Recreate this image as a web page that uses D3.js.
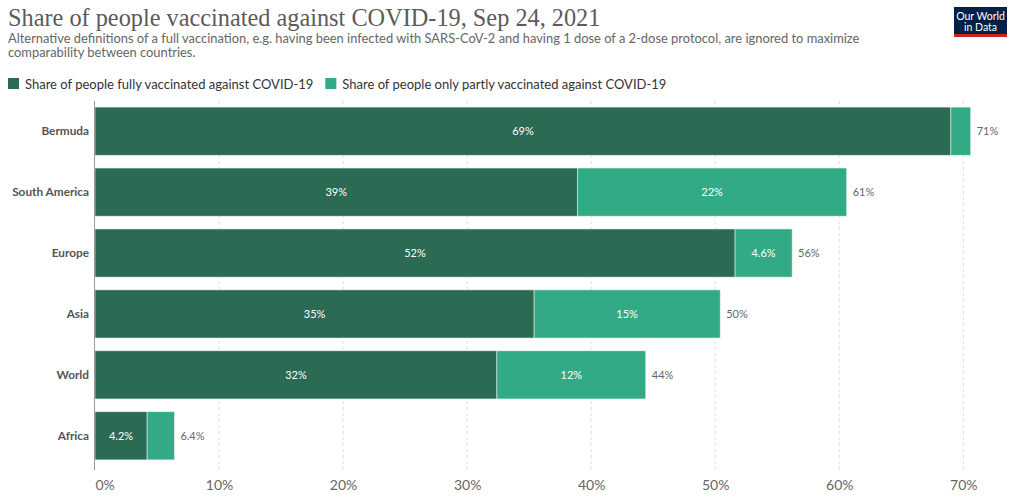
<!DOCTYPE html>
<html>
<head>
<meta charset="utf-8">
<script src="https://d3js.org/d3.v7.min.js"></script>
<style>
  body { margin: 0; background: #fff; font-family: Lato, "Open Sans", sans-serif; }
  .tick text { font-family: Lato, sans-serif; }
</style>
</head>
<body>
<svg id="chart" width="1017" height="504"></svg>
<script>
// data
const entities = ["Bermuda", "South America", "Europe", "Asia", "World", "Africa"];
const fully = [69.0, 38.9, 51.6, 35.4, 32.4, 4.2];
const partly = [1.6, 21.7, 4.6, 15.0, 12.0, 2.2];
const fullyLabels = ["69%", "39%", "52%", "35%", "32%", "4.2%"];
const partlyLabels = ["", "22%", "4.6%", "15%", "12%", ""];
const totalLabels = ["71%", "61%", "56%", "50%", "44%", "6.4%"];
const xTicks = [0, 10, 20, 30, 40, 50, 60, 70];
const seriesNames = ["Share of people fully vaccinated against COVID-19",
                     "Share of people only partly vaccinated against COVID-19"];

const colors = ["#2b6a53", "#33aa86"];
const svg = d3.select("#chart");

const x = d3.scaleLinear().domain([0, 70]).range([95, 963.3]);
const y = d3.scaleBand().domain(entities).range([101, 466]).paddingInner(0.21).paddingOuter(0.1);

// title + subtitle
svg.append("text").attr("x", 8).attr("y", 26)
  .style("font-family", "'Liberation Serif', 'DejaVu Serif', serif")
  .style("font-size", "24.3px").style("fill", "#5b5b5b")
  .text("Share of people vaccinated against COVID-19, Sep 24, 2021");
const sub = svg.append("text").style("font-size", "12.9px").style("fill", "#666");
sub.append("tspan").attr("x", 8).attr("y", 43)
  .text("Alternative definitions of a full vaccination, e.g. having been infected with SARS-CoV-2 and having 1 dose of a 2-dose protocol, are ignored to maximize");
sub.append("tspan").attr("x", 8).attr("y", 57).text("comparability between countries.");

// logo
const logo = svg.append("g").attr("transform", "translate(954,7)");
logo.append("rect").attr("width", 53).attr("height", 30).attr("fill", "#002147");
logo.append("rect").attr("y", 27).attr("width", 53).attr("height", 3).attr("fill", "#ce261e");
logo.append("text").attr("x", 26.5).attr("y", 13).attr("text-anchor", "middle")
  .style("font-size", "10.5px").style("fill", "#fff").text("Our World");
logo.append("text").attr("x", 26.5).attr("y", 24).attr("text-anchor", "middle")
  .style("font-size", "10.5px").style("fill", "#fff").text("in Data");

// legend
let lx = 8;
seriesNames.forEach((name, i) => {
  svg.append("rect").attr("x", lx).attr("y", 78).attr("width", 11).attr("height", 11).attr("fill", colors[i]);
  const t = svg.append("text").attr("x", lx + 17).attr("y", 88.5)
    .style("font-size", "13px").style("fill", "#333").text(name);
  lx += t.node().getComputedTextLength() + 17 + 12;
});

// gridlines
svg.append("g").selectAll("line").data(xTicks.slice(1)).join("line")
  .attr("x1", d => x(d)).attr("x2", d => x(d))
  .attr("y1", 101).attr("y2", 470)
  .attr("stroke", "#ddd").attr("stroke-dasharray", "3,3");

// bottom axis
const xAxis = svg.append("g").attr("transform", "translate(0,470)")
  .call(d3.axisBottom(x).tickValues(xTicks).tickFormat(d => d + "%").tickSize(0).tickPadding(10));
xAxis.select(".domain").remove();
xAxis.selectAll("text").style("font-size", "14px").style("fill", "#666")
  .attr("text-anchor", d => d === 0 ? "start" : "middle");

// stacked bars
const rows = entities.map((e, i) => ({ entity: e, fully: fully[i], partly: partly[i] }));
const stack = d3.stack().keys(["fully", "partly"])(rows);
svg.append("g").selectAll("g").data(stack).join("g")
  .attr("fill", (d, i) => colors[i])
  .selectAll("rect").data(d => d).join("rect")
  .attr("x", d => x(d[0]))
  .attr("y", d => y(d.data.entity))
  .attr("width", d => x(d[1]) - x(d[0]))
  .attr("height", y.bandwidth())
  .attr("stroke", "#e6efe9").attr("stroke-width", 0.6);

// left axis line
svg.append("line").attr("x1", 94.5).attr("x2", 94.5).attr("y1", 101).attr("y2", 470)
  .attr("stroke", "#999").attr("stroke-width", 1);

// entity labels
svg.append("g").selectAll("text").data(entities).join("text")
  .attr("x", 89).attr("y", d => y(d) + y.bandwidth() / 2).attr("dy", "0.35em")
  .attr("text-anchor", "end").style("font-size", "11.8px").style("font-weight", "bold")
  .style("fill", "#555").text(d => d);

// in-bar labels
const mid = y.bandwidth() / 2;
rows.forEach((d, i) => {
  svg.append("text").attr("x", x(d.fully / 2)).attr("y", y(d.entity) + mid).attr("dy", "0.35em")
    .attr("text-anchor", "middle").style("font-size", "11px").style("fill", "#fff").text(fullyLabels[i]);
  if (partlyLabels[i]) {
    svg.append("text").attr("x", x(d.fully + d.partly / 2)).attr("y", y(d.entity) + mid).attr("dy", "0.35em")
      .attr("text-anchor", "middle").style("font-size", "11px").style("fill", "#fff").text(partlyLabels[i]);
  }
  svg.append("text").attr("x", x(d.fully + d.partly) + 6).attr("y", y(d.entity) + mid).attr("dy", "0.35em")
    .style("font-size", "11px").style("fill", "#666").text(totalLabels[i]);
});
</script>
</body>
</html>
